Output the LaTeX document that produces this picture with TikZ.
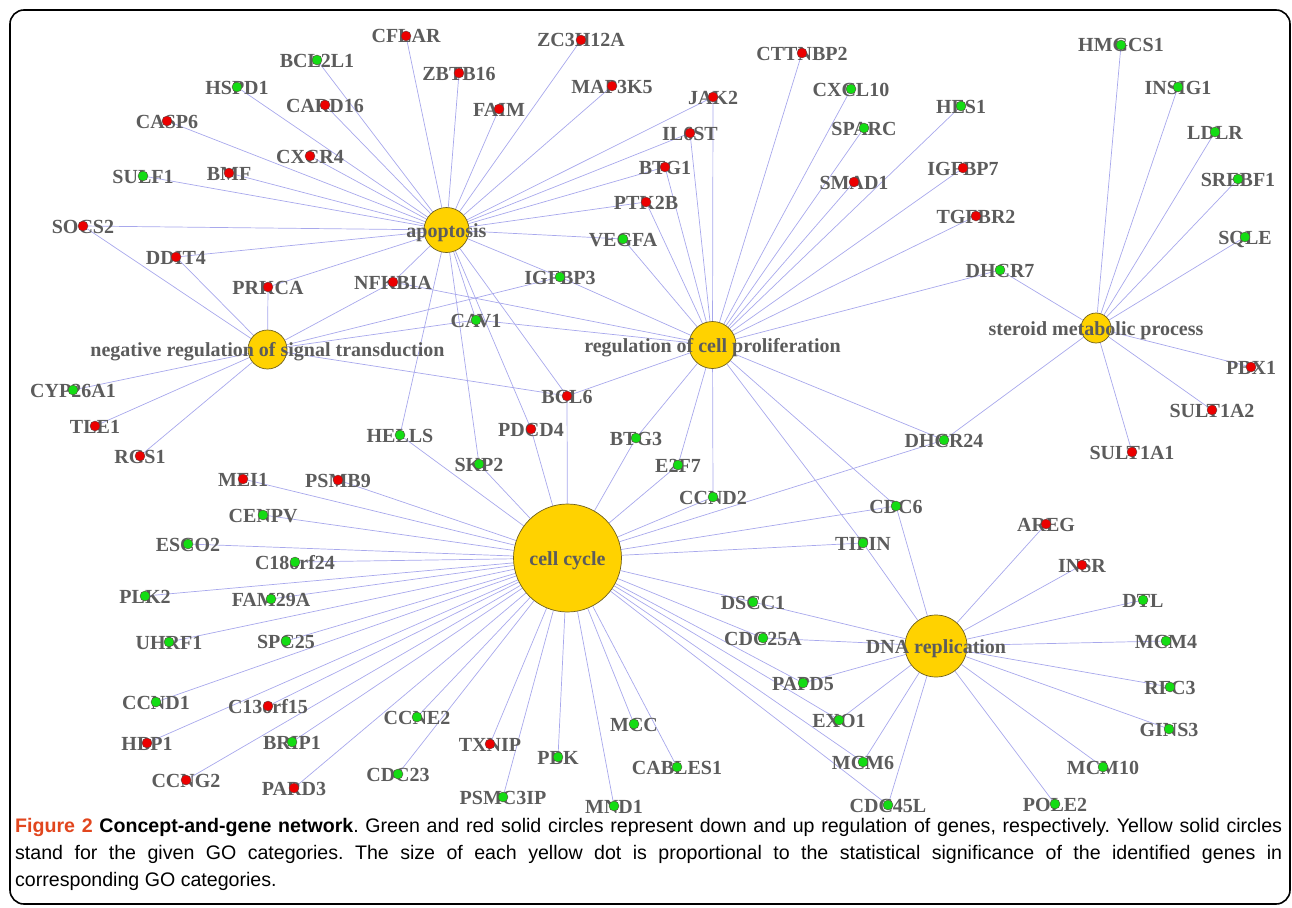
\documentclass[tikz,border=0pt]{standalone}
\usepackage{fontspec}
\setmainfont{Liberation Serif}
\newfontfamily\capfont{Liberation Sans}
\definecolor{edgecol}{RGB}{168,168,236}
\definecolor{upred}{RGB}{236,0,0}
\definecolor{downgreen}{RGB}{20,220,20}
\definecolor{dotline}{RGB}{90,70,70}
\definecolor{labgray}{RGB}{92,92,92}
\definecolor{hubfill}{RGB}{255,210,0}
\definecolor{hubline}{RGB}{110,95,30}
\definecolor{figred}{RGB}{225,70,30}
\pgfdeclarelayer{edges}
\pgfdeclarelayer{glabels}
\pgfdeclarelayer{hublabels}
\pgfsetlayers{edges,glabels,main,hublabels}
\tikzset{
  edge/.style={draw=edgecol, line width=0.7pt},
  gdot/.style={circle, draw=dotline, line width=0.4pt, minimum size=10pt, inner sep=0pt},
  up/.style={gdot, fill=upred},
  down/.style={gdot, fill=downgreen},
  glabel/.style={anchor=base, yshift=-7pt, inner sep=0pt, text=labgray, font=\fontsize{20}{24}\selectfont\bfseries},
  hub/.style={circle, draw=hubline, fill=hubfill, line width=0.7pt, inner sep=0pt},
  caption/.style={anchor=base west, inner sep=0pt, font=\capfont\fontsize{19.6}{24}\selectfont\frenchspacing}
}
\newcommand\gn[4]{%
  \node[#4] (#1) at (#2,#3) {};
  \begin{pgfonlayer}{glabels}\node[glabel] at (#2,#3) {#1};\end{pgfonlayer}}
\newcommand\hb[5]{%
  \node[hub, minimum size=#4pt] (#1) at (#2,#3) {};
  \begin{pgfonlayer}{hublabels}\node[glabel] at (#2,#3) {#5};\end{pgfonlayer}}
\begin{document}
\begin{tikzpicture}[x=1pt,y=-1pt]
\useasboundingbox (0,0) rectangle (1292,907);
\draw[line width=1.6pt, rounded corners=14pt] (10,10) rectangle (1290,904);
% hubs
\hb{apop}{446.5}{230}{45}{apoptosis}
\hb{negreg}{267.5}{349.5}{39}{negative regulation of signal transduction}
\hb{prolif}{712.5}{345}{47}{regulation of cell proliferation}
\hb{steroid}{1096}{328}{30}{steroid metabolic process}
\hb{cycle}{567.5}{558}{108}{cell cycle}
\hb{dnarep}{936}{646}{62}{DNA replication}
% genes
\gn{BCL2L1}{317}{60}{down}
\gn{HSPD1}{237}{87}{down}
\gn{CARD16}{325}{105}{up}
\gn{CASP6}{167}{121}{up}
\gn{CXCR4}{310}{156}{up}
\gn{SULF1}{143}{176}{down}
\gn{BMF}{229}{173}{up}
\gn{SOCS2}{83}{226}{up}
\gn{DDIT4}{176}{257}{up}
\gn{CFLAR}{406}{36}{up}
\gn{ZC3H12A}{581}{40}{up}
\gn{ZBTB16}{459}{73}{up}
\gn{MAP3K5}{612}{86}{up}
\gn{FAIM}{499}{109}{up}
\gn{VEGFA}{623}{239}{down}
\gn{IGFBP3}{560}{277}{down}
\gn{PTK2B}{646}{202}{up}
\gn{CTTNBP2}{802}{53}{up}
\gn{CXCL10}{851}{89}{down}
\gn{JAK2}{713}{97}{up}
\gn{HES1}{961}{106}{down}
\gn{SPARC}{864}{128}{down}
\gn{IL6ST}{690}{133}{up}
\gn{BTG1}{665}{167}{up}
\gn{SMAD1}{854}{182}{up}
\gn{IGFBP7}{963}{168}{up}
\gn{HMGCS1}{1121}{45}{down}
\gn{INSIG1}{1178}{87}{down}
\gn{LDLR}{1215}{132}{down}
\gn{SREBF1}{1238}{179}{down}
\gn{SQLE}{1245}{237}{down}
\gn{TGFBR2}{976}{216}{up}
\gn{DHCR7}{1000}{270}{down}
\gn{PRKCA}{268}{287}{up}
\gn{CYP26A1}{73}{390}{down}
\gn{TLE1}{95}{426}{up}
\gn{RGS1}{140}{456}{up}
\gn{MEI1}{243}{479}{up}
\gn{CENPV}{263}{515}{down}
\gn{NFKBIA}{393}{282}{up}
\gn{CAV1}{476}{320}{down}
\gn{BCL6}{567}{396}{up}
\gn{PDCD4}{531}{429}{up}
\gn{HELLS}{400}{435}{down}
\gn{SKP2}{479}{464}{down}
\gn{PSMB9}{338}{480}{up}
\gn{BTG3}{636}{438}{down}
\gn{E2F7}{678}{465}{down}
\gn{CCND2}{713}{497}{down}
\gn{DHCR24}{944}{440}{down}
\gn{CDC6}{896}{506}{down}
\gn{PBX1}{1251}{367}{up}
\gn{SULT1A2}{1212}{410}{up}
\gn{SULT1A1}{1132}{452}{up}
\gn{AREG}{1046}{524}{up}
\gn{ESCO2}{188}{544}{down}
\gn{C18orf24}{295}{562}{down}
\gn{PLK2}{145}{596}{down}
\gn{FAM29A}{271}{599}{down}
\gn{UHRF1}{169}{642}{down}
\gn{SPC25}{286}{641}{down}
\gn{CCND1}{156}{702}{down}
\gn{C13orf15}{268}{706}{up}
\gn{HBP1}{147}{743}{up}
\gn{BRIP1}{292}{742}{down}
\gn{CCNG2}{186}{780}{up}
\gn{PARD3}{294}{788}{up}
\gn{CCNE2}{417}{717}{down}
\gn{TXNIP}{490}{744}{up}
\gn{PBK}{558}{757}{down}
\gn{CDC23}{398}{774}{down}
\gn{PSMC3IP}{503}{797}{down}
\gn{MND1}{614}{806}{down}
\gn{MCC}{634}{724}{down}
\gn{TIPIN}{863}{543}{down}
\gn{DSCC1}{753}{602}{down}
\gn{CDC25A}{763}{638}{down}
\gn{PAPD5}{803}{683}{down}
\gn{EXO1}{839}{720}{down}
\gn{MCM6}{863}{762}{down}
\gn{CDC45L}{888}{805}{down}
\gn{CABLES1}{677}{767}{down}
\gn{INSR}{1082}{565}{up}
\gn{DTL}{1143}{600}{down}
\gn{MCM4}{1166}{641}{down}
\gn{RFC3}{1170}{687}{down}
\gn{GINS3}{1169}{729}{down}
\gn{MCM10}{1103}{767}{down}
\gn{POLE2}{1055}{804}{down}
% edges
\begin{pgfonlayer}{edges}
\foreach \g in {BCL2L1,HSPD1,CARD16,CASP6,CXCR4,BMF,SULF1,SOCS2,DDIT4,PRKCA,NFKBIA,CFLAR,ZBTB16,FAIM,ZC3H12A,MAP3K5,JAK2,IL6ST,BTG1,PTK2B,VEGFA,IGFBP3,CAV1,HELLS,SKP2,PDCD4,BCL6}
  \draw[edge] (apop) -- (\g);
\foreach \g in {SOCS2,DDIT4,PRKCA,NFKBIA,IGFBP3,CAV1,BCL6,CYP26A1,TLE1,RGS1}
  \draw[edge] (negreg) -- (\g);
\foreach \g in {JAK2,IL6ST,BTG1,PTK2B,VEGFA,CTTNBP2,CXCL10,SPARC,SMAD1,HES1,IGFBP7,TGFBR2,DHCR7,NFKBIA,IGFBP3,CAV1,BCL6,BTG3,E2F7,CCND2,DHCR24,CDC6,TIPIN}
  \draw[edge] (prolif) -- (\g);
\foreach \g in {HMGCS1,INSIG1,LDLR,SREBF1,SQLE,DHCR7,PBX1,SULT1A2,SULT1A1,DHCR24}
  \draw[edge] (steroid) -- (\g);
\foreach \g in {MEI1,PSMB9,CENPV,ESCO2,C18orf24,PLK2,FAM29A,UHRF1,SPC25,CCND1,C13orf15,HBP1,BRIP1,CCNG2,PARD3,CCNE2,CDC23,TXNIP,PSMC3IP,PBK,MND1,MCC,CABLES1,HELLS,SKP2,PDCD4,BCL6,BTG3,E2F7,CCND2,DHCR24,CDC6,TIPIN,DSCC1,CDC25A,PAPD5,EXO1,MCM6,CDC45L}
  \draw[edge] (cycle) -- (\g);
\foreach \g in {TIPIN,CDC6,DSCC1,CDC25A,PAPD5,EXO1,MCM6,CDC45L,AREG,INSR,DTL,MCM4,RFC3,GINS3,MCM10,POLE2}
  \draw[edge] (dnarep) -- (\g);
\end{pgfonlayer}
% caption
\node[caption] (cap1) at (15,832) {\makebox[1267pt][s]{\textbf{\textcolor{figred}{Figure 2} Concept-and-gene network}. Green and red solid circles represent down and up regulation of genes, respectively. Yellow solid circles}};
\node[caption] (cap2) at (15,859) {\makebox[1267pt][s]{stand for the given GO categories. The size of each yellow dot is proportional to the statistical significance of the identified genes in}};
\node[caption] (cap3) at (15,886) {corresponding GO categories.};
\end{tikzpicture}
\end{document}
